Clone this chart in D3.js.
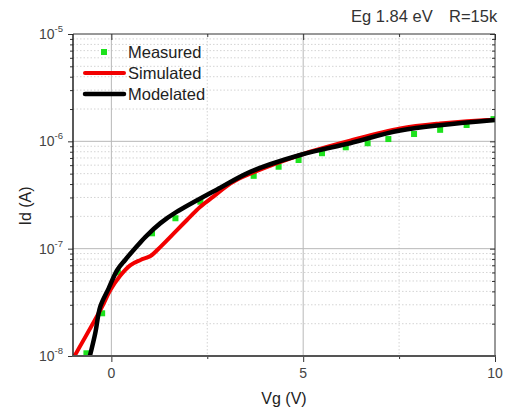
<!DOCTYPE html>
<html>
<head>
<meta charset="utf-8">
<script src="https://cdn.jsdelivr.net/npm/d3@7"></script>
<style>
  body { margin: 0; background: #fff; }
  svg { display: block; font-family: "Liberation Sans", Arial, sans-serif; }
</style>
</head>
<body>
<svg id="chart" width="508" height="412"></svg>
<script>
// valores
var measuredVg = [-0.65, -0.24, 0.17, 1.06, 1.67, 2.32, 3.71, 4.36, 4.88, 5.49, 6.11, 6.68, 7.22, 7.89, 8.57, 9.26, 9.96];
var measuredId = [1.06e-8, 2.5e-8, 6.0e-8, 1.39e-7, 1.92e-7, 2.74e-7, 4.77e-7, 5.8e-7, 6.7e-7, 7.75e-7, 8.8e-7, 9.6e-7, 1.05e-6, 1.17e-6, 1.28e-6, 1.42e-6, 1.61e-6];

var simVg = [-0.96, -0.24, -0.03, 0.23, 0.49, 0.76, 1.02, 1.28, 1.71, 1.97, 2.32, 2.66, 3.18, 4.32, 5.18, 6.22, 7.53, 8.57, 10];
var simId = [1.0e-8, 2.88e-8, 4.1e-8, 5.6e-8, 7.0e-8, 7.85e-8, 8.55e-8, 1.04e-7, 1.49e-7, 1.85e-7, 2.46e-7, 3.05e-7, 4.2e-7, 6.25e-7, 8.0e-7, 1.016e-6, 1.32e-6, 1.47e-6, 1.6e-6];

var modVg = [-0.56, -0.42, -0.29, -0.07, 0.15, 0.36, 0.58, 0.89, 1.28, 1.71, 2.84, 3.62, 4.92, 6.22, 7.53, 10];
var modId = [1.0e-8, 1.63e-8, 2.88e-8, 4.27e-8, 6.3e-8, 7.85e-8, 9.7e-8, 1.29e-7, 1.73e-7, 2.21e-7, 3.7e-7, 5.2e-7, 7.46e-7, 9.6e-7, 1.26e-6, 1.58e-6];

var xMajor = [0, 5, 10];
var xMinor = [2.5, 7.5];
var yExp = [-8, -7, -6, -5];
var legendNames = ["Measured", "Simulated", "Modelated"];

var svg = d3.select("#chart");
var L = 73, R = 495, T = 34, B = 356;

var x = d3.scaleLinear().domain([-1, 10]).range([L, R]);
var y = d3.scaleLog().domain([1e-8, 1e-5]).range([B, T]);

var yMajor = yExp.map(function(e){ return Math.pow(10, e); });
var yMinor = [];
yExp.slice(0, 3).forEach(function(e){
    for (var k = 2; k <= 9; k++) yMinor.push(k * Math.pow(10, e));
});

// grade
var grid = svg.append("g");
grid.selectAll(".gxm").data(xMinor).enter().append("line")
    .attr("x1", x).attr("x2", x).attr("y1", T).attr("y2", B)
    .attr("stroke", "#d4d4d4").attr("stroke-dasharray", "1.5,2");
grid.selectAll(".gym").data(yMinor).enter().append("line")
    .attr("x1", L).attr("x2", R).attr("y1", y).attr("y2", y)
    .attr("stroke", "#d4d4d4").attr("stroke-dasharray", "1.5,2");
grid.selectAll(".gx").data([0, 5]).enter().append("line")
    .attr("x1", x).attr("x2", x).attr("y1", T).attr("y2", B)
    .attr("stroke", "#b8b8b8");
grid.selectAll(".gy").data([1e-7, 1e-6]).enter().append("line")
    .attr("x1", L).attr("x2", R).attr("y1", y).attr("y2", y)
    .attr("stroke", "#b8b8b8");

// eixos (so os ticks)
function styleAxis(g){
    g.select(".domain").remove();
    g.selectAll("line").attr("stroke", "#333");
    g.selectAll("text").remove();
}
svg.append("g").attr("transform", "translate(0," + B + ")")
    .call(d3.axisBottom(x).tickValues(xMajor).tickSize(6)).call(styleAxis);
svg.append("g").attr("transform", "translate(0," + B + ")")
    .call(d3.axisBottom(x).tickValues(xMinor).tickSize(3)).call(styleAxis);
svg.append("g").attr("transform", "translate(0," + T + ")")
    .call(d3.axisBottom(x).tickValues(xMajor).tickSize(6)).call(styleAxis);
svg.append("g").attr("transform", "translate(0," + T + ")")
    .call(d3.axisBottom(x).tickValues(xMinor).tickSize(3)).call(styleAxis);
svg.append("g").attr("transform", "translate(" + L + ",0)")
    .call(d3.axisLeft(y).tickValues(yMajor).tickSize(5)).call(styleAxis);
svg.append("g").attr("transform", "translate(" + L + ",0)")
    .call(d3.axisLeft(y).tickValues(yMinor).tickSize(3)).call(styleAxis);
svg.append("g").attr("transform", "translate(" + R + ",0)")
    .call(d3.axisLeft(y).tickValues(yMajor).tickSize(5)).call(styleAxis);
svg.append("g").attr("transform", "translate(" + R + ",0)")
    .call(d3.axisLeft(y).tickValues(yMinor).tickSize(3)).call(styleAxis);

// curvas
var clip = svg.append("clipPath").attr("id", "area").append("rect")
    .attr("x", L).attr("y", T).attr("width", R - L).attr("height", B - T);
var plot = svg.append("g").attr("clip-path", "url(#area)");

var line = d3.line()
    .x(function(d){ return x(d[0]); })
    .y(function(d){ return y(d[1]); })
    .curve(d3.curveCatmullRom.alpha(0.5));

plot.selectAll(".pt").data(d3.zip(measuredVg, measuredId)).enter().append("rect")
    .attr("x", function(d){ return x(d[0]) - 3; })
    .attr("y", function(d){ return y(d[1]) - 3; })
    .attr("width", 6).attr("height", 6)
    .attr("fill", "#1de21d");

plot.append("path").datum(d3.zip(simVg, simId))
    .attr("d", line).attr("fill", "none")
    .attr("stroke", "#f20000").attr("stroke-width", 4).attr("stroke-linejoin", "round");
plot.append("path").datum(d3.zip(modVg, modId))
    .attr("d", line).attr("fill", "none")
    .attr("stroke", "#000").attr("stroke-width", 4.5).attr("stroke-linejoin", "round");

// moldura
svg.append("line").attr("x1", L).attr("x2", R).attr("y1", T).attr("y2", T).attr("stroke", "#333").attr("stroke-width", 1);
svg.append("line").attr("x1", R).attr("x2", R).attr("y1", T).attr("y2", B).attr("stroke", "#333").attr("stroke-width", 1);
svg.append("line").attr("x1", L).attr("x2", L).attr("y1", T).attr("y2", B).attr("stroke", "#222").attr("stroke-width", 1.5);
svg.append("line").attr("x1", L - 1).attr("x2", R + 1).attr("y1", B).attr("y2", B).attr("stroke", "#555").attr("stroke-width", 2);

// rotulos
svg.selectAll(".xl").data(xMajor).enter().append("text")
    .attr("x", x).attr("y", B + 22).attr("text-anchor", "middle")
    .attr("font-size", 14).attr("fill", "#444").text(function(d){ return d; });

var yl = svg.selectAll(".yl").data(yExp).enter().append("text")
    .attr("x", 63).attr("y", function(d){ return y(Math.pow(10, d)) + 5; })
    .attr("text-anchor", "end").attr("font-size", 14).attr("fill", "#444");
yl.append("tspan").text("10");
yl.append("tspan").attr("dy", -7).attr("font-size", 9.5).text(function(d){ return "-" + (-d); });

svg.append("text").attr("x", (L + R) / 2).attr("y", 404).attr("text-anchor", "middle")
    .attr("font-size", 16).attr("fill", "#222").text("Vg (V)");
svg.append("text").attr("transform", "translate(31,206) rotate(-90)").attr("text-anchor", "middle")
    .attr("font-size", 16).attr("fill", "#222").text("Id (A)");

svg.append("text").attr("x", 351).attr("y", 22).attr("font-size", 16.5).attr("fill", "#333").text("Eg 1.84 eV");
svg.append("text").attr("x", 449).attr("y", 22).attr("font-size", 16.5).attr("fill", "#333").text("R=15k");

// legenda
var leg = svg.append("g");
leg.append("rect").attr("x", 101).attr("y", 49).attr("width", 6).attr("height", 6).attr("fill", "#1de21d");
leg.append("line").attr("x1", 85).attr("x2", 124).attr("y1", 73).attr("y2", 73)
    .attr("stroke", "#f20000").attr("stroke-width", 4).attr("stroke-linecap", "round");
leg.append("line").attr("x1", 85).attr("x2", 124).attr("y1", 94).attr("y2", 94)
    .attr("stroke", "#000").attr("stroke-width", 4.5).attr("stroke-linecap", "round");
leg.selectAll(".lt").data(legendNames).enter().append("text")
    .attr("x", 128).attr("y", function(d, i){ return 58 + i * 21; })
    .attr("font-size", 16.5).attr("fill", "#222").text(function(d){ return d; });
</script>
</body>
</html>
